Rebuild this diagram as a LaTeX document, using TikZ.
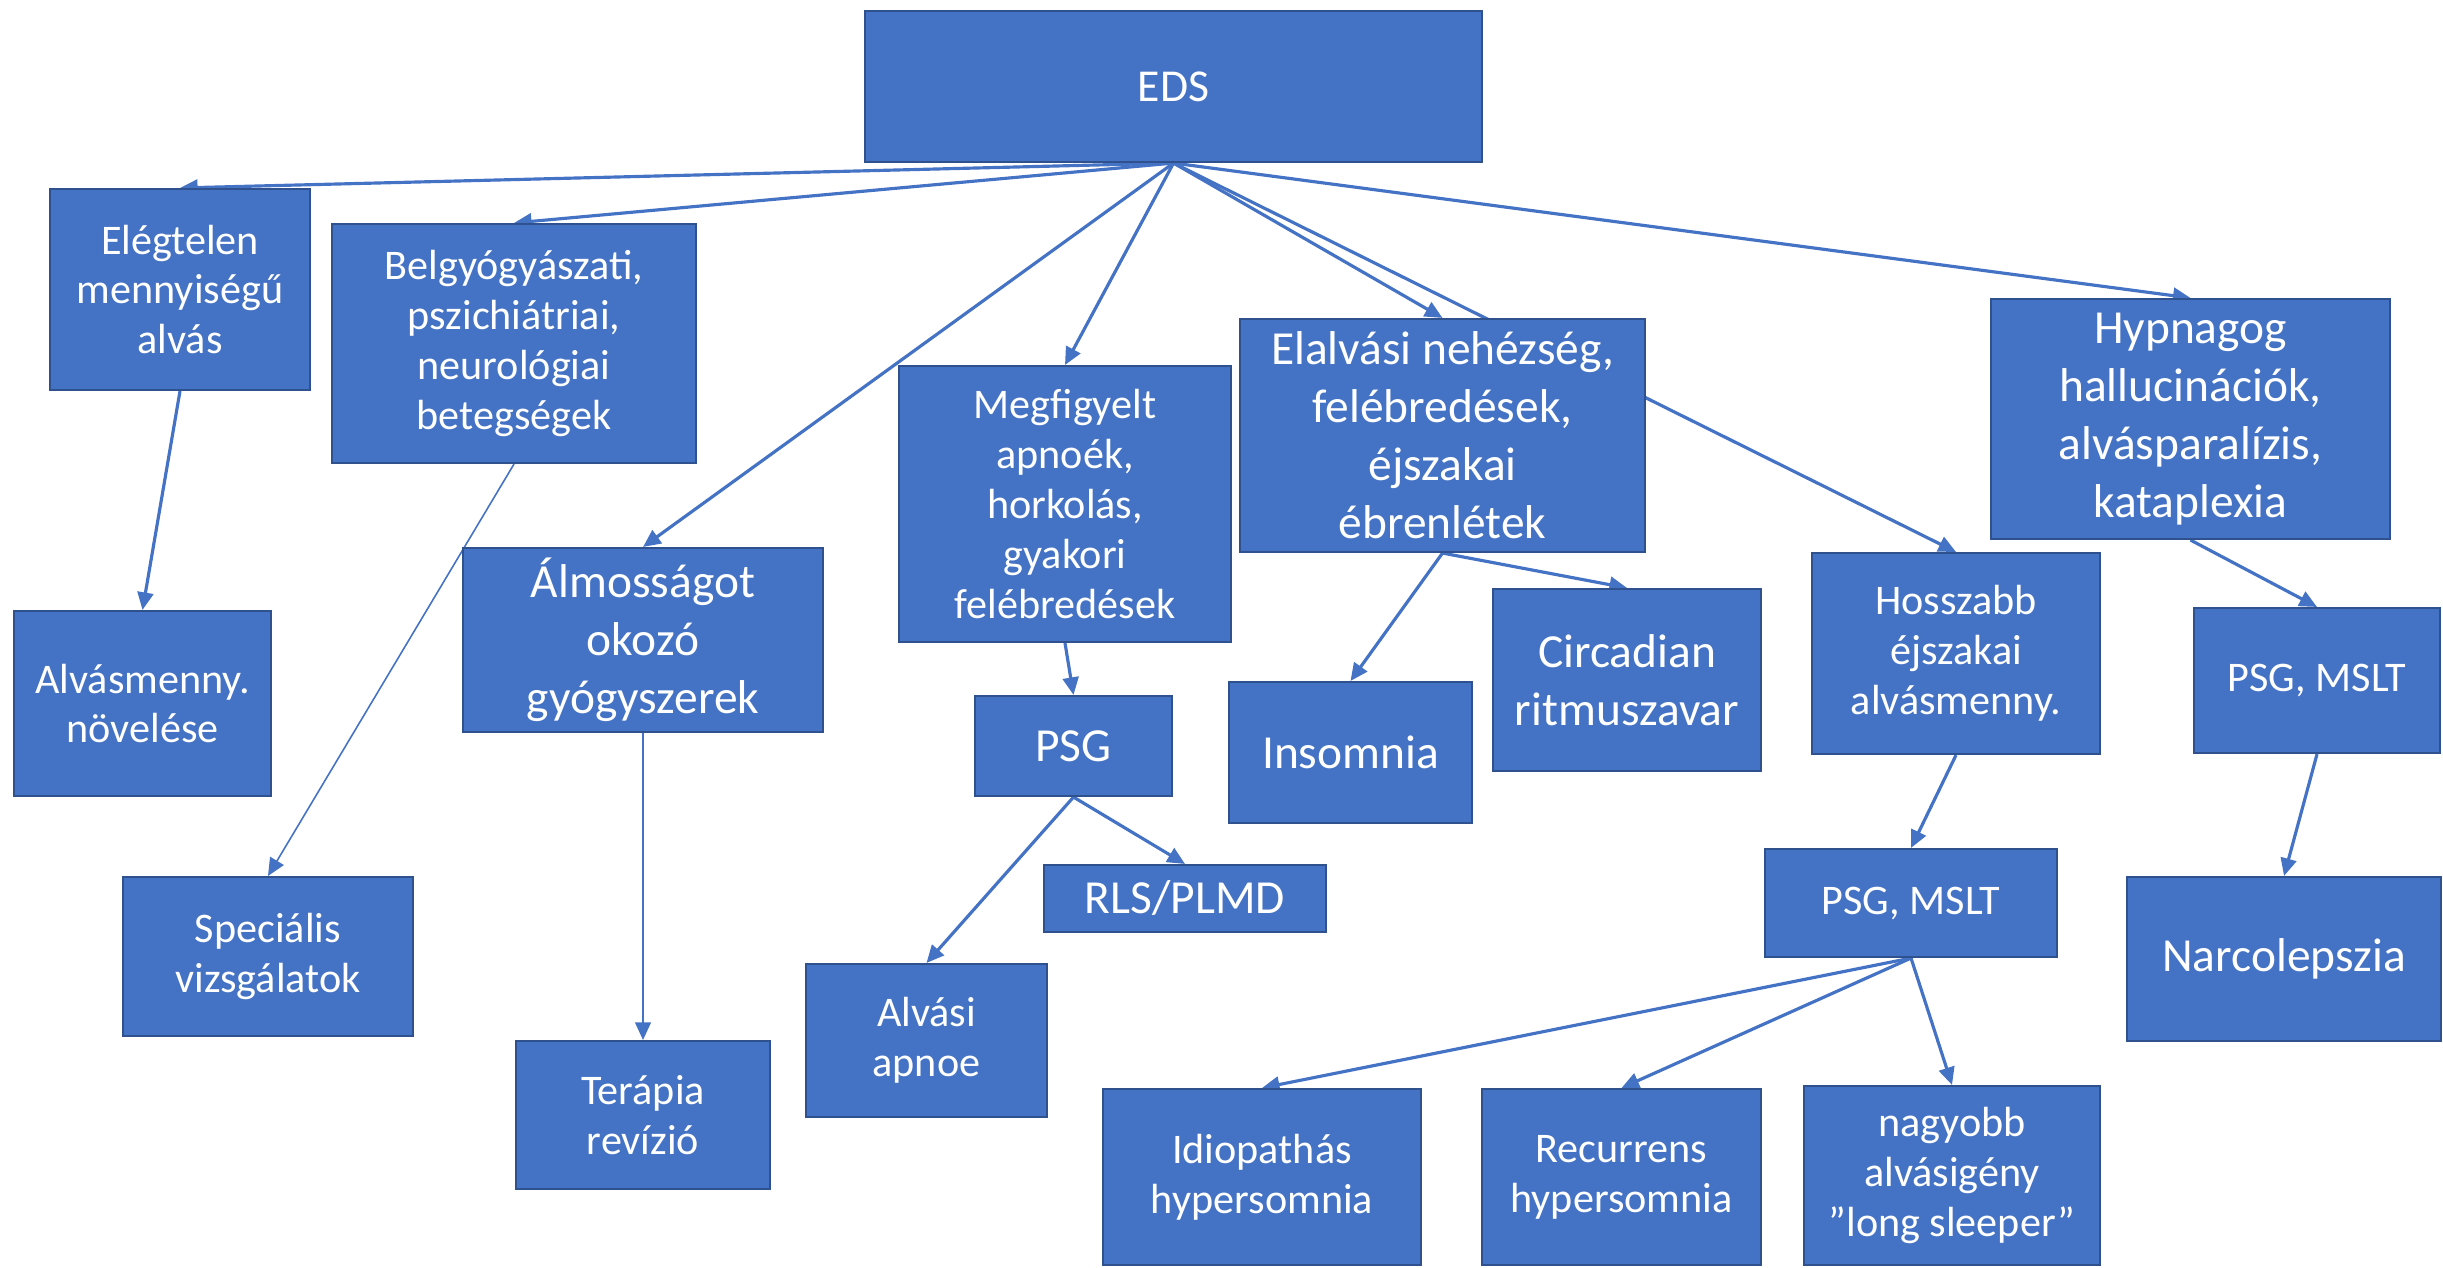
\documentclass[tikz,border=0pt]{standalone}
\usepackage{fontspec}
\setmainfont{Carlito}
\usetikzlibrary{arrows.meta,backgrounds}
\definecolor{boxblue}{HTML}{4472C4}
\definecolor{rimblue}{HTML}{2F528F}

\begin{document}
\begin{tikzpicture}[
	box/.style={draw=rimblue, line width=0.6pt, fill=boxblue, text=white, align=center,
	            inner sep=0pt, font=\fontsize{12}{14.2}\selectfont},
	big/.style={font=\fontsize{13.5}{16.5}\selectfont},
	conn/.style={draw=boxblue, line width=0.9pt, -{Triangle[length=5pt,width=4.5pt]}},
	fine/.style={line width=0.45pt}
]
	\useasboundingbox (0,0) rectangle (24.43,-12.67);

	\node[box, font=\fontsize{13}{16}\selectfont, minimum width=6.17cm, minimum height=1.51cm] (eds) at (11.735,-0.865) {EDS};

	\node[box, minimum width=2.60cm, minimum height=2.01cm] (elegtelen) at (1.80,-2.895) {Elégtelen\\mennyiségű\\alvás};
	\node[box, minimum width=3.64cm, minimum height=2.39cm] (belgy) at (5.14,-3.435) {Belgyógyászati,\\pszichiátriai,\\neurológiai\\betegségek};
	\node[box, big, minimum width=3.60cm, minimum height=1.84cm] (almos) at (6.43,-6.40) {Álmosságot\\okozó\\gyógyszerek};
	\node[box, minimum width=3.32cm, minimum height=2.76cm] (megfigy) at (10.65,-5.04) {Megfigyelt\\apnoék,\\horkolás,\\gyakori\\felébredések};
	\node[box, big, minimum width=4.05cm, minimum height=2.33cm] (elalvas) at (14.425,-4.355) {Elalvási nehézség,\\felébredések,\\éjszakai\\ébrenlétek};
	\node[box, big, minimum width=3.99cm, minimum height=2.40cm] (hypna) at (21.905,-4.19) {Hypnagog\\hallucinációk,\\alvásparalízis,\\kataplexia};

	\node[box, minimum width=2.57cm, minimum height=1.85cm] (novel) at (1.425,-7.035) {Alvásmenny.\\növelése};
	\node[box, minimum width=2.90cm, minimum height=1.59cm] (spec) at (2.68,-9.565) {Speciális\\vizsgálatok};
	\node[box, minimum width=2.54cm, minimum height=1.48cm] (terapia) at (6.43,-11.15) {Terápia\\revízió};

	\node[box, big, minimum width=1.97cm, minimum height=1.00cm] (psg) at (10.735,-7.46) {PSG};
	\node[box, big, minimum width=2.82cm, minimum height=0.67cm] (rls) at (11.85,-8.985) {RLS/PLMD};
	\node[box, minimum width=2.41cm, minimum height=1.53cm] (apnoe) at (9.265,-10.405) {Alvási\\apnoe};

	\node[box, big, minimum width=2.43cm, minimum height=1.41cm] (insom) at (13.505,-7.525) {Insomnia};
	\node[box, big, minimum width=2.68cm, minimum height=1.82cm] (circ) at (16.27,-6.80) {Circadian\\ritmuszavar};

	\node[box, minimum width=2.88cm, minimum height=2.01cm] (hossz) at (19.56,-6.535) {Hosszabb\\éjszakai\\alvásmenny.};
	\node[box, minimum width=2.92cm, minimum height=1.08cm] (psgmid) at (19.11,-9.03) {PSG, MSLT};
	\node[box, minimum width=3.18cm, minimum height=1.76cm] (idio) at (12.62,-11.77) {Idiopathás\\hypersomnia};
	\node[box, minimum width=2.79cm, minimum height=1.76cm] (recur) at (16.215,-11.77) {Recurrens\\hypersomnia};
	\node[box, minimum width=2.96cm, minimum height=1.79cm] (nagy) at (19.52,-11.755) {nagyobb\\alvásigény\\”long sleeper”};

	\node[box, minimum width=2.46cm, minimum height=1.45cm] (psgright) at (23.17,-6.805) {PSG, MSLT};
	\node[box, big, minimum width=3.14cm, minimum height=1.64cm] (narco) at (22.84,-9.59) {Narcolepszia};

	\begin{scope}[on background layer]
		\draw[conn] (eds.south) -- (elegtelen.north);
		\draw[conn] (eds.south) -- (belgy.north);
		\draw[conn] (eds.south) -- (almos.north);
		\draw[conn] (eds.south) -- (megfigy.north);
		\draw[conn] (eds.south) -- (elalvas.north);
		\draw[conn] (eds.south) -- (hossz.north);
		\draw[conn] (eds.south) -- (hypna.north);

		\draw[conn] (elegtelen.south) -- (novel.north);
		\draw[conn, fine] (belgy.south) -- (spec.north);
		\draw[conn, fine] (almos.south) -- (terapia.north);

		\draw[conn] (megfigy.south) -- (psg.north);
		\draw[conn] (psg.south) -- (apnoe.north);
		\draw[conn] (psg.south) -- (rls.north);

		\draw[conn] (elalvas.south) -- (insom.north);
		\draw[conn] (elalvas.south) -- (circ.north);

		\draw[conn] (hossz.south) -- (psgmid.north);
		\draw[conn] (psgmid.south) -- (idio.north);
		\draw[conn] (psgmid.south) -- (recur.north);
		\draw[conn] (psgmid.south) -- (nagy.north);

		\draw[conn] (hypna.south) -- (psgright.north);
		\draw[conn] (psgright.south) -- (narco.north);
	\end{scope}
\end{tikzpicture}
\end{document}
